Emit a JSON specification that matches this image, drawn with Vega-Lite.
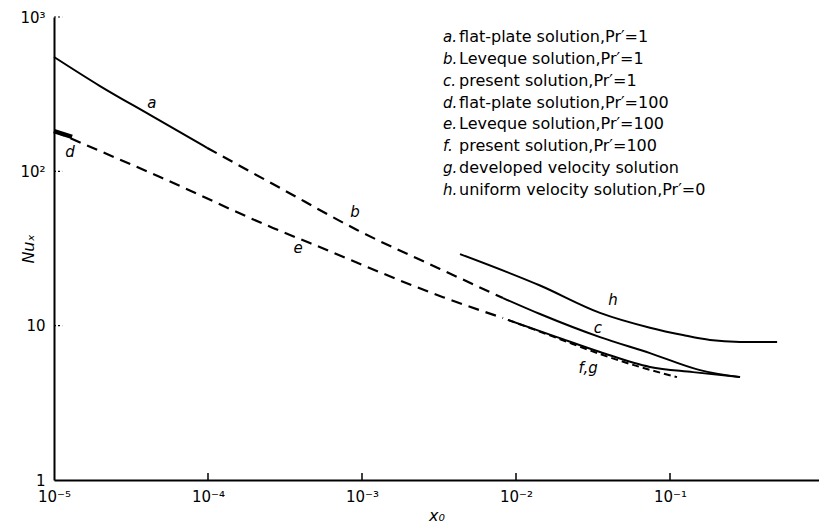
{
  "$schema": "https://vega.github.io/schema/vega-lite/v6.json",
  "width": 765,
  "height": 463,
  "autosize": "none",
  "padding": {"left": 54, "top": 17, "right": 0, "bottom": 50},
  "background": "white",
  "config": {"view": {"stroke": null}, "font": "DejaVu Sans"},
  "datasets": {
    "curves": [
      {"series": "a", "x": 0.00001, "y": 551},
      {"series": "a", "x": 0.0000199, "y": 357},
      {"series": "a", "x": 0.000042, "y": 232},
      {"series": "a", "x": 0.0000986, "y": 142},
      {"series": "b", "x": 0.0000986, "y": 142},
      {"series": "b", "x": 0.000294, "y": 78},
      {"series": "b", "x": 0.000929, "y": 41.7},
      {"series": "b", "x": 0.00321, "y": 23.3},
      {"series": "b", "x": 0.00824, "y": 15.1},
      {"series": "c", "x": 0.00824, "y": 15.1},
      {"series": "c", "x": 0.01432, "y": 11.9},
      {"series": "c", "x": 0.0351, "y": 8.43},
      {"series": "c", "x": 0.0741, "y": 6.64},
      {"series": "c", "x": 0.1567, "y": 5.15},
      {"series": "c", "x": 0.285, "y": 4.64},
      {"series": "d", "x": 0.00001, "y": 182},
      {"series": "d", "x": 0.0000131, "y": 167},
      {"series": "e", "x": 0.00001, "y": 182},
      {"series": "e", "x": 0.0000199, "y": 135.4},
      {"series": "e", "x": 0.0000488, "y": 91.9},
      {"series": "e", "x": 0.000264, "y": 43.0},
      {"series": "e", "x": 0.000459, "y": 34.3},
      {"series": "e", "x": 0.00336, "y": 15.3},
      {"series": "e", "x": 0.00824, "y": 11.2},
      {"series": "f", "x": 0.00887, "y": 10.9},
      {"series": "f", "x": 0.01845, "y": 8.43},
      {"series": "f", "x": 0.0351, "y": 6.75},
      {"series": "f", "x": 0.0741, "y": 5.40},
      {"series": "f", "x": 0.141, "y": 5.0},
      {"series": "f", "x": 0.285, "y": 4.64},
      {"series": "g", "x": 0.00887, "y": 10.9},
      {"series": "g", "x": 0.01845, "y": 8.32},
      {"series": "g", "x": 0.0351, "y": 6.55},
      {"series": "g", "x": 0.0638, "y": 5.40},
      {"series": "g", "x": 0.111, "y": 4.64},
      {"series": "h", "x": 0.00433, "y": 29.1},
      {"series": "h", "x": 0.01432, "y": 18.2},
      {"series": "h", "x": 0.0351, "y": 12.1},
      {"series": "h", "x": 0.0741, "y": 9.7},
      {"series": "h", "x": 0.1213, "y": 8.69},
      {"series": "h", "x": 0.182, "y": 8.07},
      {"series": "h", "x": 0.285, "y": 7.85},
      {"series": "h", "x": 0.496, "y": 7.83}
    ],
    "curveLabels": [
      {"label": "a", "x": 0.0000432, "y": 277},
      {"label": "b", "x": 0.000902, "y": 54.5},
      {"label": "c", "x": 0.034, "y": 9.64},
      {"label": "d", "x": 0.0000127, "y": 133},
      {"label": "e", "x": 0.000384, "y": 31.8},
      {"label": "f,g", "x": 0.0294, "y": 5.31},
      {"label": "h", "x": 0.0427, "y": 14.7}
    ],
    "legendRows": [
      {"letter": "a.", "text": "flat-plate solution,Pr′=1", "x": 0.00336, "y": 742},
      {"letter": "b.", "text": "Leveque solution,Pr′=1", "x": 0.00336, "y": 534},
      {"letter": "c.", "text": "present solution,Pr′=1", "x": 0.00336, "y": 385},
      {"letter": "d.", "text": "flat-plate solution,Pr′=100", "x": 0.00336, "y": 277},
      {"letter": "e.", "text": "Leveque solution,Pr′=100", "x": 0.00336, "y": 203},
      {"letter": "f.", "text": "present solution,Pr′=100", "x": 0.00336, "y": 146},
      {"letter": "g.", "text": "developed velocity solution", "x": 0.00336, "y": 105},
      {"letter": "h.", "text": "uniform velocity solution,Pr′=0", "x": 0.00336, "y": 75.6}
    ],
    "xTicks": [
      {"v": 0.0001, "lo": 1, "hi": 1.11},
      {"v": 0.001, "lo": 1, "hi": 1.11},
      {"v": 0.01, "lo": 1, "hi": 1.11},
      {"v": 0.1, "lo": 1, "hi": 1.11}
    ],
    "yTicks": [
      {"v": 10, "lo": 0.00001, "hi": 0.0000113},
      {"v": 100, "lo": 0.00001, "hi": 0.0000113},
      {"v": 1000, "lo": 0.00001, "hi": 0.0000113}
    ]
  },
  "layer": [
    {
      "data": {"name": "curves"},
      "transform": [{"filter": {"field": "series", "oneOf": ["a", "c", "f", "h"]}}],
      "mark": {"type": "line", "interpolate": "monotone", "color": "black", "strokeWidth": 2},
      "encoding": {
        "x": {
          "field": "x", "type": "quantitative",
          "scale": {"type": "log", "domain": [0.00001, 0.928], "nice": false},
          "axis": {
            "values": [0.00001, 0.0001, 0.001, 0.01, 0.1],
            "labelExpr": "['10⁻⁵','10⁻⁴','10⁻³','10⁻²','10⁻¹'][round(log(datum.value)/LN10)+5]",
            "title": "x₀", "titleFontStyle": "italic", "titleFontWeight": "normal", "titleFontSize": 16, "titleColor": "black", "titlePadding": 3,
            "grid": false, "ticks": false,
            "domainColor": "black", "domainWidth": 2,
            "labelFontSize": 15, "labelColor": "black", "labelPadding": 9, "labelFlush": false
          }
        },
        "y": {
          "field": "y", "type": "quantitative",
          "scale": {"type": "log", "domain": [1, 1000], "nice": false},
          "axis": {
            "values": [1, 10, 100, 1000],
            "labelExpr": "['1','10','10²','10³'][round(log(datum.value)/LN10)]",
            "title": "Nuₓ", "titleFontStyle": "italic", "titleFontWeight": "normal", "titleFontSize": 16, "titleColor": "black", "titlePadding": -17,
            "grid": false, "ticks": false,
            "domainColor": "black", "domainWidth": 2,
            "labelFontSize": 15, "labelColor": "black", "labelPadding": 9, "labelFlush": false
          }
        },
        "detail": {"field": "series"}
      }
    },
    {
      "data": {"name": "xTicks"},
      "mark": {"type": "rule", "color": "black", "strokeWidth": 1.5},
      "encoding": {
        "x": {"field": "v", "type": "quantitative"},
        "y": {"field": "lo", "type": "quantitative"},
        "y2": {"field": "hi"}
      }
    },
    {
      "data": {"name": "yTicks"},
      "mark": {"type": "rule", "color": "black", "strokeWidth": 1.2, "strokeDash": [2, 2]},
      "encoding": {
        "y": {"field": "v", "type": "quantitative"},
        "x": {"field": "lo", "type": "quantitative"},
        "x2": {"field": "hi"}
      }
    },
    {
      "data": {"name": "curves"},
      "transform": [{"filter": {"field": "series", "oneOf": ["b", "e"]}}],
      "mark": {"type": "line", "interpolate": "monotone", "color": "black", "strokeWidth": 2.2, "strokeDash": [11, 7]},
      "encoding": {"x": {"field": "x", "type": "quantitative"}, "y": {"field": "y", "type": "quantitative"}, "detail": {"field": "series"}}
    },
    {
      "data": {"name": "curves"},
      "transform": [{"filter": {"field": "series", "equal": "g"}}],
      "mark": {"type": "line", "interpolate": "monotone", "color": "black", "strokeWidth": 2, "strokeDash": [7, 4]},
      "encoding": {"x": {"field": "x", "type": "quantitative"}, "y": {"field": "y", "type": "quantitative"}, "detail": {"field": "series"}}
    },
    {
      "data": {"name": "curves"},
      "transform": [{"filter": {"field": "series", "equal": "d"}}],
      "mark": {"type": "line", "color": "black", "strokeWidth": 4.5},
      "encoding": {"x": {"field": "x", "type": "quantitative"}, "y": {"field": "y", "type": "quantitative"}, "detail": {"field": "series"}}
    },
    {
      "data": {"name": "curveLabels"},
      "mark": {"type": "text", "fontStyle": "italic", "fontSize": 15, "color": "black", "align": "center", "baseline": "middle"},
      "encoding": {"x": {"field": "x", "type": "quantitative"}, "y": {"field": "y", "type": "quantitative"}, "text": {"field": "label"}}
    },
    {
      "data": {"name": "legendRows"},
      "mark": {"type": "text", "fontStyle": "italic", "fontSize": 15, "color": "black", "align": "left", "baseline": "middle"},
      "encoding": {"x": {"field": "x", "type": "quantitative"}, "y": {"field": "y", "type": "quantitative"}, "text": {"field": "letter"}}
    },
    {
      "data": {"name": "legendRows"},
      "mark": {"type": "text", "fontSize": 16, "color": "black", "align": "left", "baseline": "middle", "dx": 16},
      "encoding": {"x": {"field": "x", "type": "quantitative"}, "y": {"field": "y", "type": "quantitative"}, "text": {"field": "text"}}
    }
  ]
}
